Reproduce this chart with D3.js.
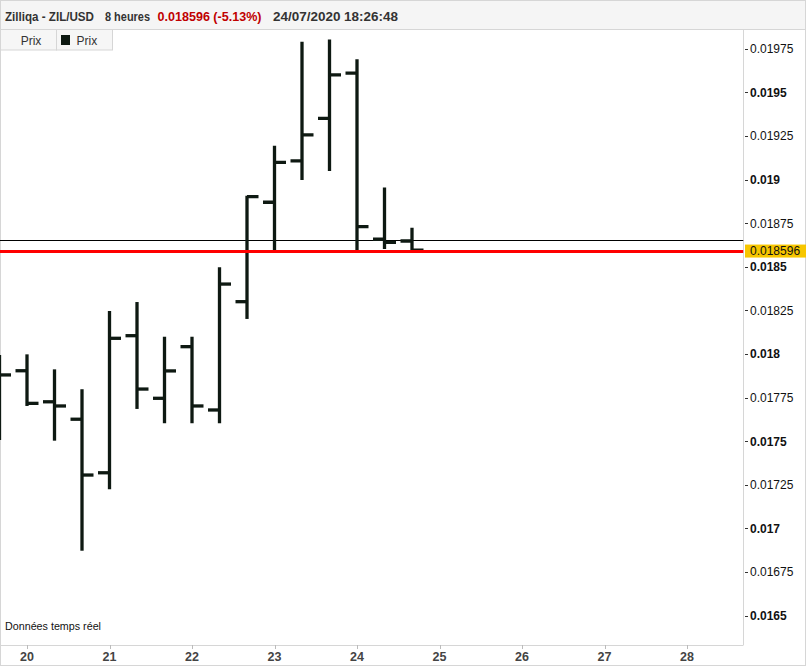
<!DOCTYPE html>
<html><head><meta charset="utf-8">
<script src="https://cdn.jsdelivr.net/npm/d3@7"></script>
<style>
html,body{margin:0;padding:0;background:#fff;}
svg{display:block;font-family:"Liberation Sans",Arial,sans-serif;}
</style></head>
<body>
<svg id="chart" width="806" height="666"></svg>
<script>
// ---- DATA (8-hour OHLC bars, ZIL/USD) ----
const barTimes = ["2020-07-19T16:00Z","2020-07-20T00:00Z","2020-07-20T08:00Z","2020-07-20T16:00Z",
  "2020-07-21T00:00Z","2020-07-21T08:00Z","2020-07-21T16:00Z","2020-07-22T00:00Z",
  "2020-07-22T08:00Z","2020-07-22T16:00Z","2020-07-23T00:00Z","2020-07-23T08:00Z",
  "2020-07-23T16:00Z","2020-07-24T00:00Z","2020-07-24T08:00Z","2020-07-24T16:00Z"];
const opens  = [0.01790,0.017904,0.017726,0.017626,0.017319,0.018105,0.017746,0.018042,0.017679,0.018300,0.018870,0.019107,0.019351,0.019610,0.018658,0.018648];
const highs  = [0.017994,0.017998,0.017912,0.017798,0.018247,0.018298,0.018099,0.018099,0.018497,0.018908,0.019194,0.019791,0.019804,0.019690,0.018954,0.018724];
const lows   = [0.017507,0.017702,0.017503,0.016872,0.017224,0.017685,0.017603,0.017603,0.017603,0.018201,0.018592,0.018998,0.019049,0.018592,0.018602,0.018596];
const closes = [0.017880,0.017717,0.017702,0.017306,0.018090,0.017799,0.017903,0.017702,0.018401,0.018902,0.019099,0.019256,0.019600,0.018730,0.018640,0.018596];
const lastPrice = 0.018596;
const refLevel = 0.018654;
const yTickValues = [0.0165,0.01675,0.017,0.01725,0.0175,0.01775,0.018,0.01825,0.0185,0.01875,0.019,0.01925,0.0195,0.01975];
const xTickLabels = ["20","21","22","23","24","25","26","27","28"];
const headerParts = ["Zilliqa - ZIL/USD","8 heures","0.018596 (-5.13%)","24/07/2020 18:26:48"];
const legendLabels = ["Prix","Prix"];
const footNote = "Données temps réel";

// ---- LAYOUT ----
const W = 806, H = 666;
const plot = {left: 0, right: 743.5, top: 29.5, bottom: 645};
const barColor = "#0e1912";
const svg = d3.select("#chart");

const x = d3.scaleUtc()
  .domain([new Date("2020-07-20T00:00Z"), new Date("2020-07-28T00:00Z")])
  .range([27, 687]);
const y = d3.scaleLinear().domain([0.0165, 0.01975]).range([615.6, 48.8]);

const bars = barTimes.map((t,i)=>({t:new Date(t), o:opens[i], h:highs[i], l:lows[i], c:closes[i]}));

// background frame
svg.append("rect").attr("x",0.5).attr("y",0.5).attr("width",W-1).attr("height",H-1)
  .attr("fill","#fff").attr("stroke","#d6d6d6");
// header
svg.append("rect").attr("x",0.5).attr("y",0.5).attr("width",W-1).attr("height",29)
  .attr("fill","#f5f5f5").attr("stroke","#d6d6d6");

const hx = [5,105,157.5,273], hw = [89,45,104,125];
headerParts.forEach((s,i)=>{
  svg.append("text").attr("x",hx[i]).attr("y",20.5).text(s)
    .attr("font-size",12.5).attr("font-weight","bold")
    .attr("fill", i===2 ? "#c00000" : "#333")
    .attr("textLength",hw[i]).attr("lengthAdjust","spacingAndGlyphs");
});

// plot area clip
svg.append("clipPath").attr("id","pc").append("rect")
  .attr("x",plot.left).attr("y",plot.top).attr("width",plot.right-plot.left).attr("height",plot.bottom-plot.top);

// plot borders
svg.append("line").attr("x1",plot.right).attr("x2",plot.right).attr("y1",plot.top).attr("y2",plot.bottom)
  .attr("stroke","#d6d6d6");
svg.append("line").attr("x1",0).attr("x2",plot.right).attr("y1",plot.bottom+0.5).attr("y2",plot.bottom+0.5)
  .attr("stroke","#d6d6d6");

const g = svg.append("g").attr("clip-path","url(#pc)");

// horizontal level line
g.append("line").attr("x1",0).attr("x2",plot.right).attr("y1",Math.round(y(refLevel))+0.5).attr("y2",Math.round(y(refLevel))+0.5)
  .attr("stroke","#000").attr("stroke-width",1);

// OHLC bars
const tick = 11.5;
const bg = g.append("g").attr("stroke",barColor).attr("stroke-width",3.3);
bars.forEach(d=>{
  const cx = x(d.t);
  bg.append("line").attr("x1",cx).attr("x2",cx).attr("y1",y(d.h)).attr("y2",y(d.l));
  bg.append("line").attr("x1",cx-tick).attr("x2",cx).attr("y1",y(d.o)).attr("y2",y(d.o));
  bg.append("line").attr("x1",cx).attr("x2",cx+tick).attr("y1",y(d.c)).attr("y2",y(d.c));
});

// last price red line
g.append("line").attr("x1",0).attr("x2",plot.right).attr("y1",y(lastPrice)+1.5).attr("y2",y(lastPrice)+1.5)
  .attr("stroke","#ff0000").attr("stroke-width",3);

// legend tabs
const tabs = [{x:0.5,w:56},{x:56.5,w:56}];
tabs.forEach(tb=>{
  svg.append("rect").attr("x",tb.x).attr("y",29.5).attr("width",tb.w).attr("height",20.5)
    .attr("fill","#f6f6f6").attr("stroke","#d6d6d6");
});
svg.append("text").attr("x",31).attr("y",45).attr("text-anchor","middle").attr("font-size",12)
  .attr("fill","#333").text(legendLabels[0]);
svg.append("rect").attr("x",61).attr("y",35).attr("width",9).attr("height",10).attr("fill",barColor);
svg.append("text").attr("x",76.5).attr("y",45).attr("font-size",12).attr("fill","#333").text(legendLabels[1]);

// right y axis
const fmt = v => String(+v.toFixed(5));
const ya = svg.append("g");
yTickValues.forEach(v=>{
  const yy = y(v);
  const major = Math.abs(Math.round(v/0.0005)*0.0005 - v) < 1e-9;
  ya.append("line").attr("x1",745).attr("x2",748).attr("y1",Math.round(yy)+0.5).attr("y2",Math.round(yy)+0.5)
    .attr("stroke","#333");
  ya.append("text").attr("x",750).attr("y",yy).attr("dy","0.36em").attr("font-size",12)
    .attr("font-weight", major ? "bold" : "normal").attr("fill","#111").text(fmt(v));
});

// price label box
const py = y(lastPrice)+1;
svg.append("rect").attr("x",745).attr("y",py-6.5).attr("width",61).attr("height",13).attr("fill","#f7c600");
svg.append("text").attr("x",750).attr("y",py).attr("dy","0.36em").attr("font-size",12).attr("fill","#111")
  .text(lastPrice.toFixed(6));

// bottom x axis
xTickLabels.forEach(s=>{
  const xx = x(new Date(`2020-07-${s}T00:00Z`));
  svg.append("line").attr("x1",Math.round(xx)+0.5).attr("x2",Math.round(xx)+0.5).attr("y1",645).attr("y2",649)
    .attr("stroke","#bbb");
  svg.append("text").attr("x",xx).attr("y",661).attr("text-anchor","middle").attr("font-size",12.5)
    .attr("font-weight","bold").attr("fill","#444").text(s);
});

// footnote
svg.append("text").attr("x",5).attr("y",630).attr("font-size",10.5).attr("fill","#111")
  .attr("textLength",96).attr("lengthAdjust","spacingAndGlyphs").text(footNote);
</script>
</body></html>
